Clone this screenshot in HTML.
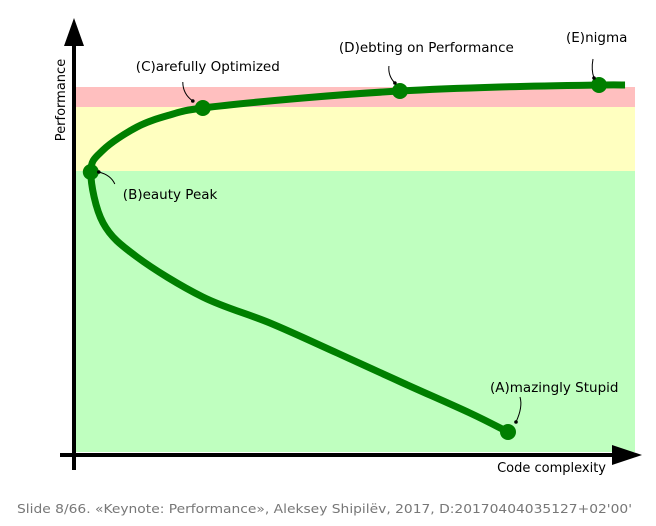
<!DOCTYPE html>
<html><head><meta charset="utf-8"><style>
body{margin:0;background:#fff;width:656px;height:522px;overflow:hidden;font-family:"DejaVu Sans","Liberation Sans",sans-serif}
svg text{font-family:"DejaVu Sans","Liberation Sans",sans-serif}
</style></head><body>
<svg id="chart" width="656" height="522" viewBox="0 0 656 522">
<g id="bands"></g>
<g id="curve"></g>
<g id="axes">
<line x1="74" y1="470" x2="74" y2="40" stroke="#000" stroke-width="4"/>
<polygon points="74,18 64,46 84,46" fill="#000"/>
<line x1="60" y1="455" x2="615" y2="455" stroke="#000" stroke-width="4"/>
<polygon points="642,455 612,445 612,465" fill="#000"/>
<text transform="translate(65,100) rotate(-90)" text-anchor="middle" font-size="13">Performance</text>
<text x="606" y="472" text-anchor="end" font-size="13">Code complexity</text>
</g>
<g id="labels"></g>
<text x="17" y="513" font-size="12.5" fill="#777" textLength="615" lengthAdjust="spacingAndGlyphs" font-family="Liberation Sans, sans-serif">Slide 8/66. «Keynote: Performance», Aleksey Shipilёv, 2017, D:20170404035127+02'00'</text>
</svg>
<script>
// data (complexity 0..100, performance 0..100)
const bandNames=['green-zone','yellow-zone','red-zone'];
const bandLow=[0.75,71,87];
const bandHigh=[71,87,92];
const curveX=[77.5,70.7,58.75,47,35,23,11.25,5.2,3,5.2,11.25,17.1,23,40.9,58.2,76,93.75,98.4];
const curveY=[5.75,10.5,18,25.5,33,39.5,49.5,58,70.75,76.25,82,85,86.75,89.25,91,92,92.5,92.5];
const pointNames=['A','B','C','D','E'];
const pointX=[77.5,3,23,58.2,93.75];
const pointY=[5.75,70.75,86.75,91,92.5];
const pointLabels=['(A)mazingly Stupid','(B)eauty Peak','(C)arefully Optimized','(D)ebting on Performance','(E)nigma'];
const xs=v=>74+v*5.6, ys=v=>455-v*4;
const NS='http://www.w3.org/2000/svg';
const bandColors=['#bfffbf','#ffffc0','#ffbfbf'];
const bands=document.getElementById('bands');
bandNames.forEach((n,i)=>{const r=document.createElementNS(NS,'rect');


r.setAttribute('x',74);r.setAttribute('width',561);r.setAttribute('y',ys(bandHigh[i]));r.setAttribute('height',ys(bandLow[i])-ys(bandHigh[i]));r.setAttribute('fill',bandColors[i]);bands.appendChild(r);});
const P=curveX.map((x,i)=>[xs(x),ys(curveY[i])]);
let d='M'+P[0][0]+','+P[0][1];
for(let i=0;i<P.length-1;i++){const p0=P[i-1]||P[i],p1=P[i],p2=P[i+1],p3=P[i+2]||P[i+1];
d+=' C'+(p1[0]+(p2[0]-p0[0])/6)+','+(p1[1]+(p2[1]-p0[1])/6)+' '+(p2[0]-(p3[0]-p1[0])/6)+','+(p2[1]-(p3[1]-p1[1])/6)+' '+p2[0]+','+p2[1];}
const g=document.getElementById('curve');
const path=document.createElementNS(NS,'path');


path.setAttribute('d',d);path.setAttribute('fill','none');path.setAttribute('stroke','#007f00');path.setAttribute('stroke-width','7');g.appendChild(path);
const lab=document.getElementById('labels');
const lOff=[[-18,-40,'start'],[32,27,'start'],[-67,-37,'start'],[-61,-39,'start'],[-33,-43,'start']];
const aOff=[[[8,-10],[15,-25],[12,-35]],[[8,0],[20,3],[24,12]],[[-10,-7],[-20,-14],[-20,-26]],[[-5,-8],[-12,-15],[-11,-25]],[[-5,-7],[-8,-15],[-6,-26]]];
pointX.forEach((x,i)=>{const cx=xs(x),cy=ys(pointY[i]);
const c=document.createElementNS(NS,'circle');


c.setAttribute('cx',cx);c.setAttribute('cy',cy);c.setAttribute('r',8);c.setAttribute('fill','#007f00');g.appendChild(c);
const t=document.createElementNS(NS,'text');


t.setAttribute('x',cx+lOff[i][0]);t.setAttribute('y',cy+lOff[i][1]);t.setAttribute('font-size','13.5');t.textContent=pointLabels[i];lab.appendChild(t);
const a=aOff[i];const ap=document.createElementNS(NS,'path');


ap.setAttribute('d','M'+(cx+a[0][0])+','+(cy+a[0][1])+' Q'+(cx+a[1][0])+','+(cy+a[1][1])+' '+(cx+a[2][0])+','+(cy+a[2][1]));
ap.setAttribute('fill','none');ap.setAttribute('stroke','#000');ap.setAttribute('stroke-width','1');lab.appendChild(ap);
const ah=document.createElementNS(NS,'circle');


ah.setAttribute('cx',cx+a[0][0]);ah.setAttribute('cy',cy+a[0][1]);ah.setAttribute('r',1.8);ah.setAttribute('fill','#000');lab.appendChild(ah);
});
</script>
</body></html>
